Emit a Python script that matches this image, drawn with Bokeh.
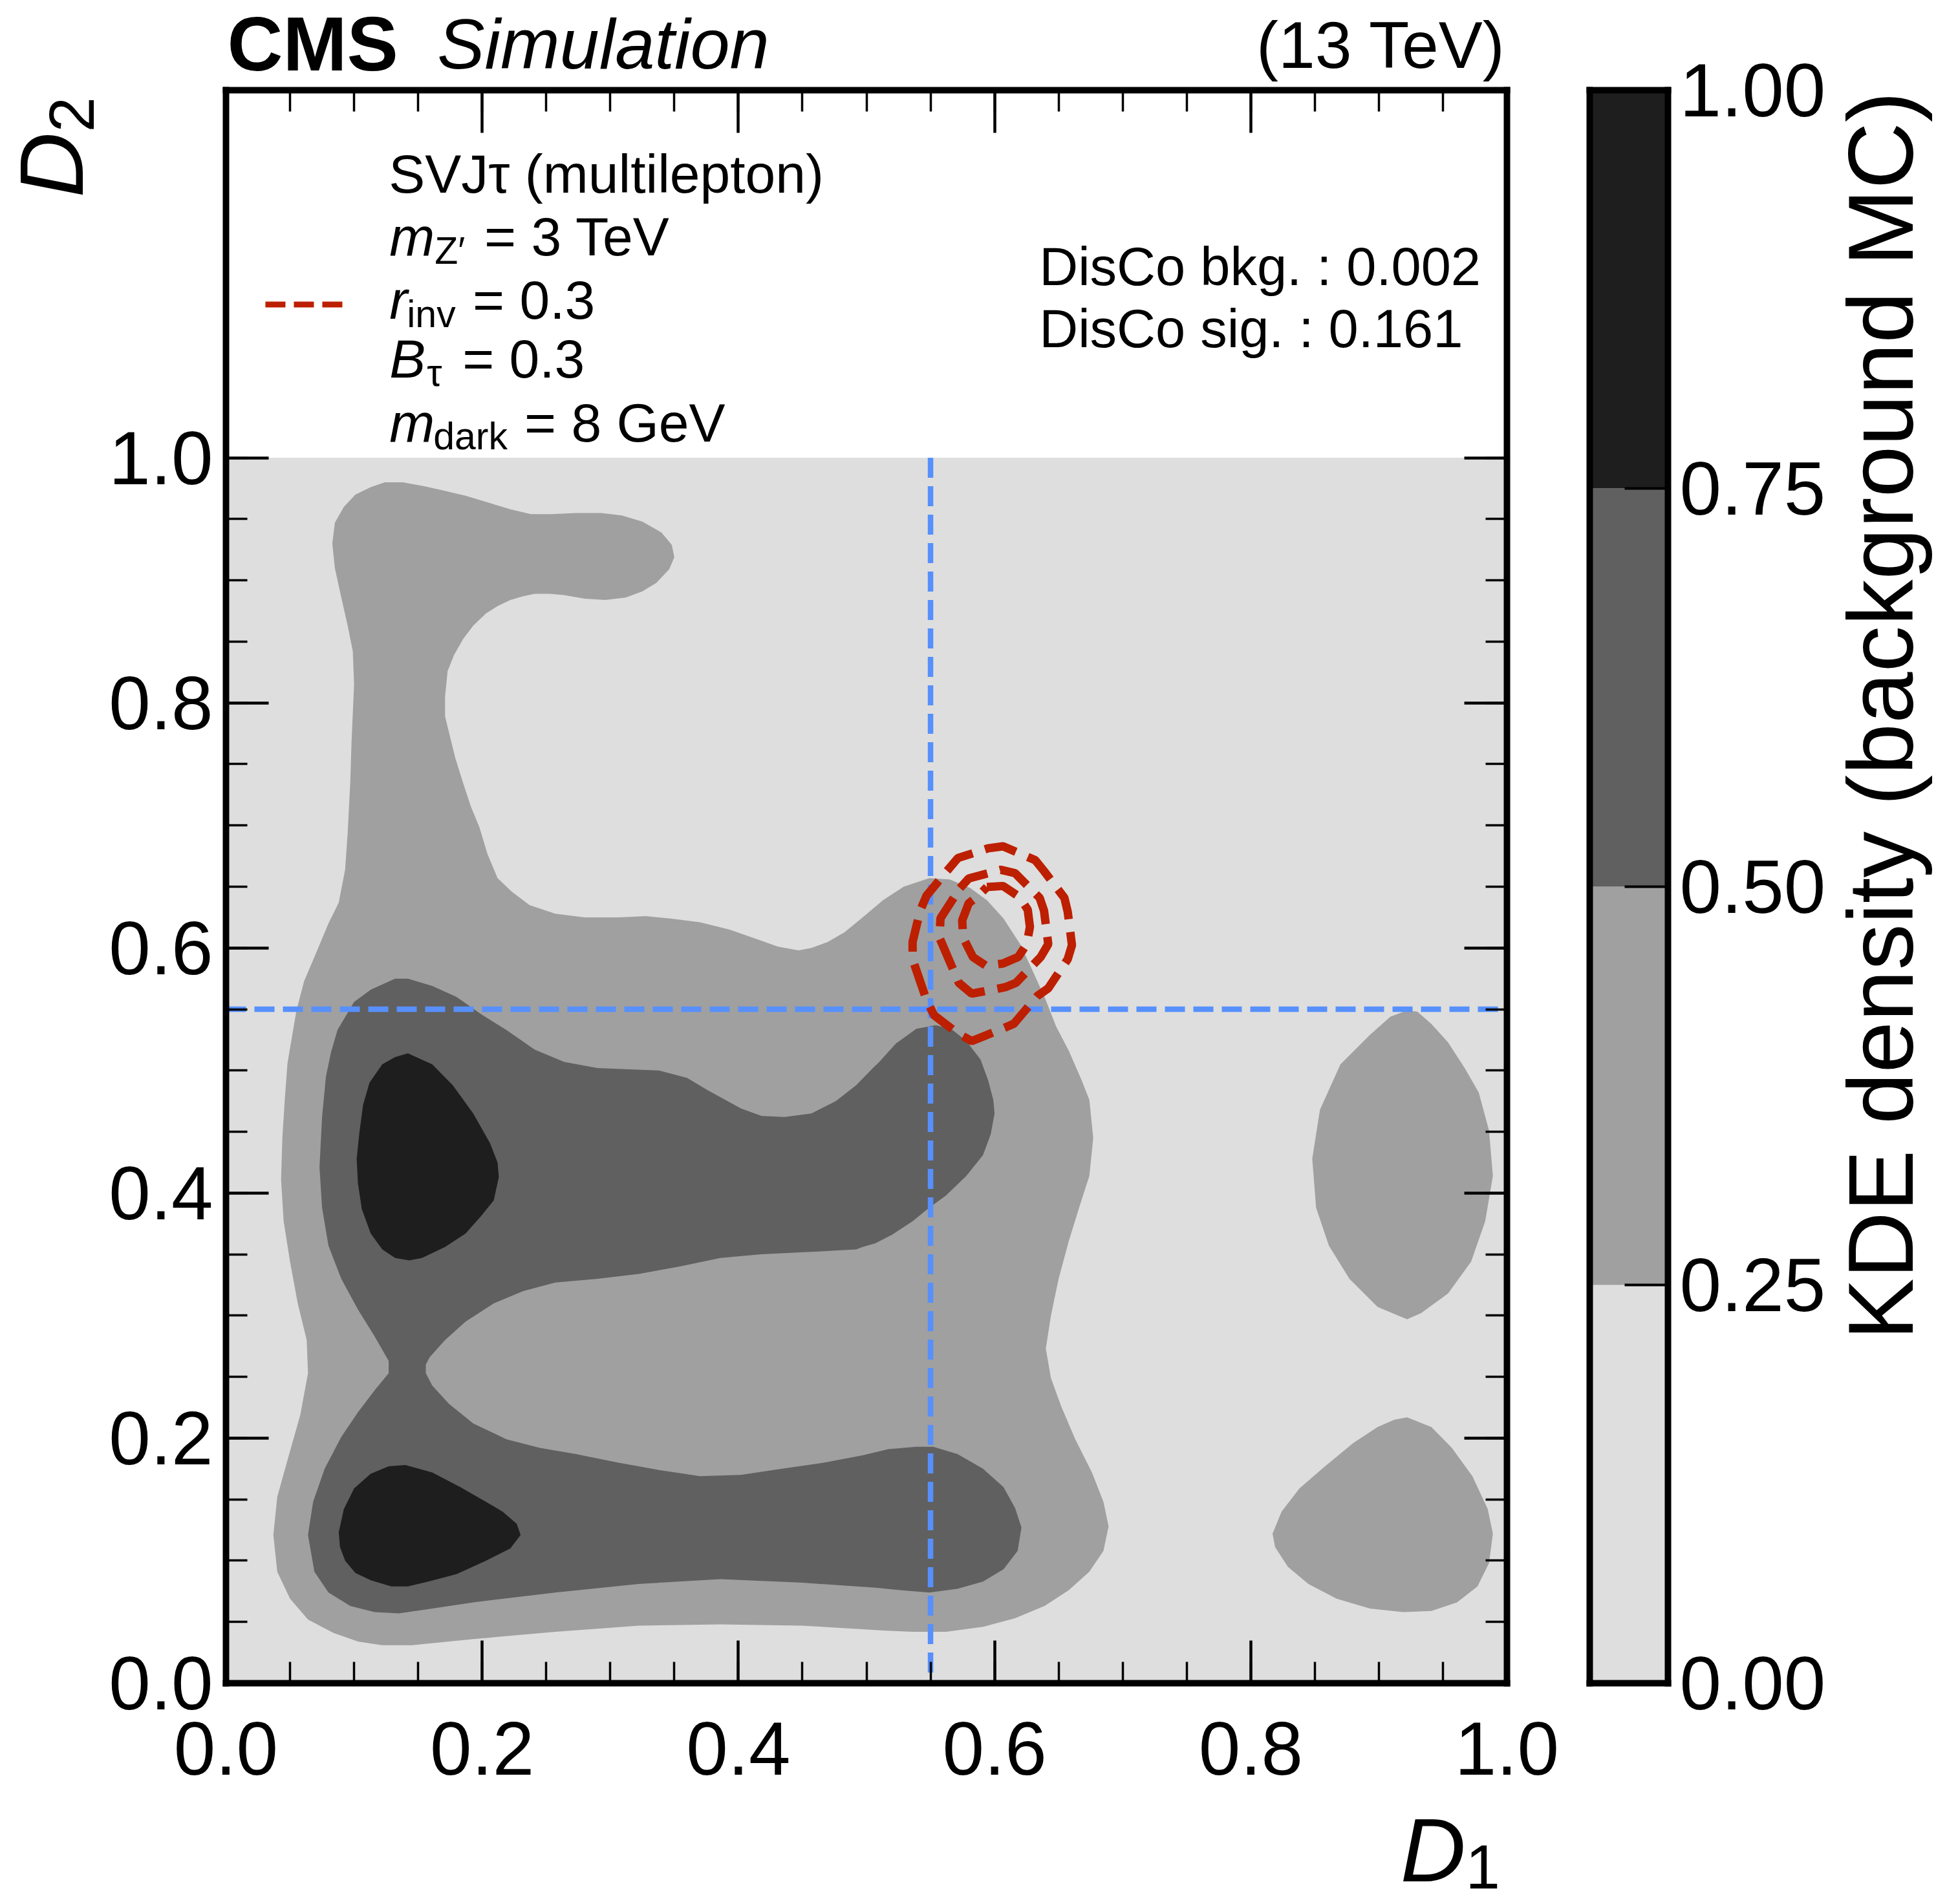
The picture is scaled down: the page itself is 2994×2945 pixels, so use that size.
import math
from bokeh.plotting import figure
from bokeh.models import Label, FixedTicker, LinearAxis, Range1d, PrintfTickFormatter
from bokeh.layouts import row, column
from bokeh.embed import file_html
from bokeh.resources import INLINE

# ------------------------------------------------------------------ data
x_major_ticks = [0.0, 0.2, 0.4, 0.6, 0.8, 1.0]
y_major_ticks = [0.0, 0.2, 0.4, 0.6, 0.8, 1.0]
minor_ticks = [0.0, 0.05, 0.1, 0.15, 0.2, 0.25, 0.3, 0.35, 0.4, 0.45, 0.5,
               0.55, 0.6, 0.65, 0.7, 0.75, 0.8, 0.85, 0.9, 0.95, 1.0]
cbar_ticks = [0.0, 0.25, 0.5, 0.75, 1.0]

kde_levels = [0.0, 0.25, 0.5, 0.75, 1.0]
kde_colors = ["#dedede", "#a0a0a0", "#606060", "#1e1e1e"]
kde_domain_x = [0.0, 1.0]
kde_domain_y = [0.0, 1.0]

cut_d1 = 0.55
cut_d2 = 0.55

# density >= 0.25 : main region
lvl1_main_x = [0.083, 0.085, 0.092, 0.101, 0.113, 0.124, 0.138, 0.154, 0.171, 0.187, 0.203, 0.222, 0.238,
               0.254, 0.273, 0.293, 0.309, 0.325, 0.340, 0.348, 0.350, 0.346, 0.336, 0.325, 0.312, 0.296,
               0.280, 0.264, 0.253, 0.241, 0.232, 0.222, 0.212, 0.203, 0.193, 0.185, 0.178, 0.173, 0.171,
               0.171, 0.175, 0.179, 0.185, 0.191, 0.198, 0.204, 0.212, 0.223, 0.237, 0.257, 0.280, 0.306,
               0.328, 0.347, 0.370, 0.393, 0.415, 0.431, 0.447, 0.457, 0.470, 0.483, 0.497, 0.513, 0.529,
               0.549, 0.565, 0.581, 0.594, 0.607, 0.620, 0.629, 0.639, 0.648, 0.658, 0.668, 0.674, 0.677,
               0.674, 0.666, 0.658, 0.650, 0.644, 0.640, 0.644, 0.652, 0.663, 0.676, 0.685, 0.689, 0.685,
               0.674, 0.658, 0.639, 0.616, 0.591, 0.562, 0.536, 0.513, 0.497, 0.450, 0.386, 0.322, 0.257,
               0.193, 0.145, 0.122, 0.103, 0.084, 0.064, 0.050, 0.040, 0.037, 0.040, 0.048, 0.058, 0.064,
               0.063, 0.056, 0.050, 0.045, 0.043, 0.044, 0.046, 0.048, 0.055, 0.061, 0.072, 0.080, 0.088,
               0.093, 0.095, 0.097, 0.098, 0.100, 0.099, 0.095, 0.090, 0.085]
lvl1_main_y = [0.930, 0.947, 0.960, 0.970, 0.976, 0.980, 0.980, 0.977, 0.973, 0.969, 0.964, 0.958, 0.954,
               0.954, 0.955, 0.955, 0.953, 0.948, 0.939, 0.929, 0.919, 0.909, 0.898, 0.891, 0.886, 0.884,
               0.885, 0.888, 0.889, 0.889, 0.887, 0.884, 0.879, 0.873, 0.863, 0.852, 0.839, 0.826, 0.805,
               0.789, 0.772, 0.755, 0.735, 0.716, 0.698, 0.677, 0.657, 0.646, 0.635, 0.628, 0.625, 0.625,
               0.626, 0.624, 0.621, 0.615, 0.607, 0.601, 0.598, 0.600, 0.605, 0.613, 0.625, 0.639, 0.650,
               0.657, 0.656, 0.649, 0.639, 0.624, 0.603, 0.583, 0.560, 0.536, 0.516, 0.492, 0.476, 0.445,
               0.414, 0.388, 0.361, 0.330, 0.300, 0.273, 0.249, 0.226, 0.199, 0.172, 0.148, 0.128, 0.108,
               0.091, 0.076, 0.063, 0.053, 0.046, 0.042, 0.042, 0.043, 0.044, 0.047, 0.048, 0.047, 0.042,
               0.036, 0.031, 0.031, 0.034, 0.041, 0.052, 0.069, 0.091, 0.121, 0.152, 0.182, 0.219, 0.253,
               0.280, 0.310, 0.344, 0.377, 0.411, 0.445, 0.478, 0.506, 0.549, 0.573, 0.600, 0.620, 0.637,
               0.664, 0.694, 0.735, 0.768, 0.815, 0.842, 0.863, 0.886, 0.910]

# density >= 0.25 : upper-right island
lvl1_ur_x = [0.922, 0.930, 0.941, 0.954, 0.967, 0.978, 0.986, 0.989, 0.983, 0.972, 0.954, 0.933, 0.922,
             0.899, 0.877, 0.861, 0.851, 0.848, 0.854, 0.870, 0.893, 0.909]
lvl1_ur_y = [0.549, 0.548, 0.538, 0.523, 0.502, 0.482, 0.451, 0.414, 0.377, 0.344, 0.318, 0.302, 0.297,
             0.307, 0.330, 0.357, 0.388, 0.428, 0.468, 0.505, 0.529, 0.544]

# density >= 0.25 : lower-right island
lvl1_lr_x = [0.922, 0.941, 0.957, 0.973, 0.985, 0.989, 0.986, 0.977, 0.961, 0.941, 0.919, 0.893, 0.867,
             0.845, 0.829, 0.819, 0.817, 0.824, 0.838, 0.858, 0.880, 0.899, 0.912]
lvl1_lr_y = [0.217, 0.209, 0.192, 0.169, 0.142, 0.122, 0.098, 0.079, 0.066, 0.059, 0.058, 0.061, 0.069,
             0.081, 0.095, 0.111, 0.122, 0.140, 0.159, 0.177, 0.196, 0.209, 0.215]

# density >= 0.50
lvl2_x = [0.087, 0.100, 0.113, 0.132, 0.142, 0.161, 0.180, 0.199, 0.219, 0.241, 0.264, 0.290, 0.315,
          0.338, 0.360, 0.376, 0.402, 0.418, 0.436, 0.457, 0.476, 0.492, 0.505, 0.510, 0.523, 0.539,
          0.554, 0.566, 0.578, 0.589, 0.595, 0.599, 0.600, 0.597, 0.591, 0.578, 0.562, 0.549, 0.536,
          0.520, 0.507, 0.497, 0.492, 0.457, 0.418, 0.386, 0.354, 0.322, 0.290, 0.257, 0.232, 0.209,
          0.187, 0.171, 0.159, 0.156, 0.156, 0.161, 0.174, 0.193, 0.219, 0.245, 0.273, 0.306, 0.338,
          0.370, 0.402, 0.434, 0.467, 0.497, 0.517, 0.539, 0.552, 0.571, 0.591, 0.607, 0.616, 0.621,
          0.618, 0.607, 0.591, 0.571, 0.549, 0.526, 0.507, 0.450, 0.386, 0.322, 0.257, 0.193, 0.161,
          0.135, 0.116, 0.097, 0.080, 0.069, 0.064, 0.068, 0.077, 0.090, 0.103, 0.116, 0.127, 0.127,
          0.116, 0.103, 0.090, 0.080, 0.075, 0.073, 0.075, 0.078, 0.082]
lvl2_y = [0.533, 0.556, 0.566, 0.575, 0.575, 0.569, 0.560, 0.546, 0.533, 0.517, 0.507, 0.502, 0.501,
          0.500, 0.494, 0.484, 0.469, 0.463, 0.462, 0.465, 0.475, 0.488, 0.502, 0.507, 0.522, 0.534,
          0.537, 0.534, 0.524, 0.509, 0.492, 0.476, 0.465, 0.448, 0.431, 0.414, 0.398, 0.388, 0.377,
          0.366, 0.359, 0.356, 0.354, 0.352, 0.350, 0.347, 0.340, 0.334, 0.330, 0.327, 0.320, 0.310,
          0.295, 0.280, 0.266, 0.260, 0.253, 0.243, 0.228, 0.212, 0.199, 0.192, 0.187, 0.180, 0.174,
          0.169, 0.170, 0.175, 0.180, 0.186, 0.191, 0.193, 0.193, 0.187, 0.175, 0.160, 0.143, 0.127,
          0.108, 0.093, 0.083, 0.077, 0.074, 0.076, 0.078, 0.082, 0.085, 0.081, 0.074, 0.066, 0.061,
          0.057, 0.058, 0.063, 0.074, 0.091, 0.121, 0.148, 0.175, 0.201, 0.221, 0.239, 0.253, 0.263,
          0.283, 0.305, 0.330, 0.357, 0.388, 0.421, 0.462, 0.495, 0.515]

# density >= 0.75 : two cores
lvl3_up_x = [0.142, 0.161, 0.177, 0.193, 0.206, 0.212, 0.213, 0.209, 0.199, 0.187, 0.171, 0.153, 0.143,
             0.132, 0.122, 0.113, 0.106, 0.103, 0.102, 0.104, 0.107, 0.112, 0.122, 0.132]
lvl3_up_y = [0.514, 0.505, 0.488, 0.465, 0.441, 0.425, 0.413, 0.394, 0.381, 0.367, 0.356, 0.347, 0.345,
             0.347, 0.354, 0.367, 0.387, 0.408, 0.428, 0.448, 0.472, 0.490, 0.505, 0.511]
lvl3_lo_x = [0.140, 0.161, 0.183, 0.203, 0.216, 0.227, 0.230, 0.222, 0.203, 0.180, 0.158, 0.142, 0.129,
             0.113, 0.101, 0.093, 0.089, 0.088, 0.092, 0.100, 0.113, 0.127]
lvl3_lo_y = [0.178, 0.172, 0.160, 0.148, 0.140, 0.130, 0.121, 0.110, 0.100, 0.089, 0.083, 0.079, 0.079,
             0.084, 0.090, 0.100, 0.111, 0.123, 0.142, 0.159, 0.171, 0.177]

# signal KDE contours (dashed red)
sig_outer_x = [0.5629, 0.5714, 0.5949, 0.6066, 0.6318, 0.6386, 0.6545, 0.6571, 0.6604, 0.6571, 0.6419,
               0.6335, 0.6150, 0.6049, 0.5822, 0.5714, 0.5528, 0.5469, 0.5360, 0.5360, 0.5419, 0.5469]
sig_outer_y = [0.6629, 0.6734, 0.6813, 0.6830, 0.6716, 0.6628, 0.6409, 0.6295, 0.6023, 0.5909, 0.5671,
               0.5609, 0.5381, 0.5336, 0.5240, 0.5302, 0.5451, 0.5574, 0.5908, 0.6049, 0.6304, 0.6427]
sig_mid_x = [0.5730, 0.5798, 0.6049, 0.6159, 0.6352, 0.6386, 0.6419, 0.6360, 0.6167, 0.6083, 0.5822,
             0.5721, 0.5570, 0.5578]
sig_mid_y = [0.6488, 0.6567, 0.6638, 0.6611, 0.6409, 0.6304, 0.6031, 0.5926, 0.5715, 0.5680, 0.5627,
             0.5715, 0.6084, 0.6243]
sig_inner_x = [0.5940, 0.6066, 0.6192, 0.6259, 0.6276, 0.6251, 0.6184, 0.6066, 0.5932, 0.5831, 0.5755,
               0.5747, 0.5798, 0.5865]
sig_inner_y = [0.6497, 0.6506, 0.6418, 0.6312, 0.6172, 0.6031, 0.5926, 0.5873, 0.5856, 0.5926, 0.6084,
               0.6225, 0.6365, 0.6418]

legend_lines = ["SVJτ (multilepton)", "m", "Z′", "= 3 TeV", "r", "inv", "= 0.3",
                "B", "τ", "= 0.3", "m", "dark", "= 8 GeV"]
disco_lines = ["DisCo bkg. : 0.002", "DisCo sig. : 0.161"]

# ------------------------------------------------------------------ layout (page pixels, origin top-left)
FONT = "Liberation Sans"
RED = "#bd1f01"
BLUE = "#5790fc"
TOTAL_W, TOTAL_H = 2992, 2942
LEFT_W = 165                       # strip with the D2 title
MID_X0, MID_X1 = 165, 2450         # column: header / main plot / D1 strip
CB_X0, CB_X1 = 2450, 2826          # colour bar
KDE_X0 = 2826                      # strip with the colour-bar title
HEAD_H = 134
MAIN_Y1 = 2780
FX0, FX1, FY0, FY1 = 347, 2330, 139, 2603      # main frame (page px)
CX0, CX1 = 2458, 2579                          # colour-bar frame (page px)
Y_TOP = 1.3
K_MID = 0.3465   # baseline -> middle of the em box, in em


def dx(px):
    return (px - FX0) / (FX1 - FX0)


def dy(py):
    return Y_TOP * (FY1 - py) / (FY1 - FY0)


def ident(v):
    return v


def put(fig, x, y, text, size, style="normal", align="left", rotated=False, fx=ident, fy=ident):
    """x, y : page position of the text origin on its baseline."""
    if rotated:
        ax, ay, ang = x - K_MID * size, y, math.pi / 2
    else:
        ax, ay, ang = x, y - K_MID * size, 0.0
    fig.add_layout(Label(x=fx(ax), y=fy(ay), text=text, text_font=FONT, text_font_size=f"{size}px",
                         text_font_style=style, text_align=align, text_baseline="middle",
                         angle=ang, text_color="black"))


def strip(w, h, xr, yr):
    """A blank canvas; its (aligned) frame uses page pixels as data coordinates."""
    f = figure(width=w, height=h, x_range=Range1d(*xr), y_range=Range1d(*yr),
               output_backend="svg", toolbar_location=None, x_axis_location=None, y_axis_location=None,
               min_border=0, min_border_left=0, min_border_right=0, min_border_top=0,
               min_border_bottom=0)
    f.grid.visible = False
    f.outline_line_color = None
    f.border_fill_color = "white"
    f.background_fill_color = "white"
    return f


def frame_axis(ax, ticks=None, minor=None, show_labels=False, fmt="%.1f"):
    ax.axis_line_color = "black"
    ax.axis_line_width = 10
    ax.axis_line_cap = "square"
    if ticks is None:
        ax.ticker = FixedTicker(ticks=[], minor_ticks=[])
        ax.major_tick_line_color = None
        ax.minor_tick_line_color = None
    else:
        ax.ticker = FixedTicker(ticks=ticks, minor_ticks=minor)
        ax.major_tick_line_color = "black"
        ax.minor_tick_line_color = "black"
    ax.major_tick_in = 66
    ax.major_tick_out = 0
    ax.minor_tick_in = 33
    ax.minor_tick_out = 0
    ax.major_tick_line_width = 4.5
    ax.minor_tick_line_width = 3.5
    ax.formatter = PrintfTickFormatter(format=fmt)
    ax.major_label_text_font = FONT
    if show_labels:
        ax.major_label_text_font_size = "116px"
        ax.major_label_text_color = "black"
    else:
        ax.major_label_text_font_size = "1px"
        ax.major_label_text_color = None
        ax.major_label_standoff = 0
        ax.axis_label_standoff = 0


# ------------------------------------------------------------------ header strip (frame aligned with main frame in x)
head = strip(MID_X1 - MID_X0, HEAD_H, (FX0, FX1), (HEAD_H, 0))
put(head, 349, 108.2, "CMS", 119, "bold")
put(head, 674, 105, "Simulation", 110, "italic")
put(head, 2328, 105, "(13 TeV)", 102, align="right")

# ------------------------------------------------------------------ main figure
p = figure(width=MID_X1 - MID_X0, height=MAIN_Y1 - HEAD_H, x_range=Range1d(0, 1), y_range=Range1d(0, Y_TOP),
           output_backend="svg", toolbar_location=None,
           min_border_left=FX0 - MID_X0, min_border_right=MID_X1 - FX1,
           min_border_top=FY0 - HEAD_H, min_border_bottom=MAIN_Y1 - FY1)
p.grid.visible = False
p.outline_line_color = None
p.background_fill_color = "white"
p.border_fill_color = "white"

frame_axis(p.xaxis[0], x_major_ticks, minor_ticks, True)
p.xaxis[0].major_label_standoff = 60
frame_axis(p.yaxis[0], y_major_ticks, minor_ticks, True)
p.yaxis[0].major_label_standoff = 20
top_axis = LinearAxis()
frame_axis(top_axis, x_major_ticks, minor_ticks, False)
p.add_layout(top_axis, "above")
right_axis = LinearAxis()
frame_axis(right_axis, y_major_ticks, minor_ticks, False)
p.add_layout(right_axis, "right")

# filled background-KDE contours
p.quad(left=[kde_domain_x[0]], right=[kde_domain_x[1]], bottom=[kde_domain_y[0]], top=[kde_domain_y[1]],
       fill_color=kde_colors[0], line_color=None)
p.patches(xs=[lvl1_main_x, lvl1_ur_x, lvl1_lr_x], ys=[lvl1_main_y, lvl1_ur_y, lvl1_lr_y],
          fill_color=kde_colors[1], line_color=None)
p.patch(lvl2_x, lvl2_y, fill_color=kde_colors[2], line_color=None)
p.patches(xs=[lvl3_up_x, lvl3_lo_x], ys=[lvl3_up_y, lvl3_lo_y], fill_color=kde_colors[3], line_color=None)

# decorrelation cut lines
p.line([cut_d1, cut_d1], [kde_domain_y[1], kde_domain_y[0]], line_color=BLUE, line_width=8.5,
       line_dash="31 13")
p.line([kde_domain_x[0], kde_domain_x[1]], [cut_d2, cut_d2], line_color=BLUE, line_width=8.5,
       line_dash="31 13")

# signal contours
for sx, sy in [(sig_outer_x, sig_outer_y), (sig_mid_x, sig_mid_y), (sig_inner_x, sig_inner_y)]:
    p.line(sx + sx[:1], sy + sy[:1], line_color=RED, line_width=13, line_dash="50 20")

# legend handle
p.line([dx(408), dx(528)], [dy(470.5), dy(470.5)], line_color=RED, line_width=9, line_dash="31 13")

# legend text
M = dict(fx=dx, fy=dy)
put(p, 599, 298, legend_lines[0], 84, **M)
put(p, 600, 395, legend_lines[1], 84, "italic", **M)
put(p, 670, 408, legend_lines[2], 59, **M)
put(p, 747, 395, legend_lines[3], 84, **M)
put(p, 600, 493, legend_lines[4], 84, "italic", **M)
put(p, 627, 506, legend_lines[5], 59, **M)
put(p, 729, 493, legend_lines[6], 84, **M)
put(p, 600, 584, legend_lines[7], 84, "italic", **M)
put(p, 658, 597, legend_lines[8], 59, **M)
put(p, 713, 584, legend_lines[9], 84, **M)
put(p, 600, 683, legend_lines[10], 84, "italic", **M)
put(p, 668, 695, legend_lines[11], 59, **M)
put(p, 809, 683, legend_lines[12], 84, **M)

# DisCo values
put(p, 1606, 441, disco_lines[0], 83, **M)
put(p, 1606, 537, disco_lines[1], 83, **M)

# ------------------------------------------------------------------ title strips
# row children get their frames aligned with the plot frames (page y 139..2603)
left = strip(LEFT_W, TOTAL_H, (0, LEFT_W), (FY1, FY0))
put(left, 128, 305, "D", 140, "italic", rotated=True)
put(left, 144, 204, "2", 98, rotated=True)

bottom = strip(MID_X1 - MID_X0, TOTAL_H - MAIN_Y1, (FX0, FX1), (TOTAL_H, MAIN_Y1))
put(bottom, 2165, 2910, "D", 140, "italic")
put(bottom, 2266, 2920, "1", 96)

kde_strip = strip(TOTAL_W - KDE_X0, TOTAL_H, (KDE_X0, TOTAL_W), (FY1, FY0))
put(kde_strip, 2958, 141, "KDE density (background MC)", 143, align="right", rotated=True)

# ------------------------------------------------------------------ colour bar
cb = figure(width=CB_X1 - CB_X0, height=TOTAL_H, x_range=Range1d(0, 1), y_range=Range1d(0, 1),
            output_backend="svg", toolbar_location=None,
            x_axis_location=None, y_axis_location="right",
            min_border_left=CX0 - CB_X0, min_border_right=CB_X1 - CX1,
            min_border_top=FY0, min_border_bottom=TOTAL_H - FY1)
cb.grid.visible = False
cb.outline_line_color = None
cb.border_fill_color = "white"
cb.quad(left=0, right=1, bottom=kde_levels[:-1], top=kde_levels[1:], fill_color=kde_colors,
        line_color=None)
cax = cb.yaxis[0]
frame_axis(cax, cbar_ticks, [], True, fmt="%.2f")
cax.major_tick_in = 67
cax.major_tick_line_width = 4
cax.major_label_standoff = 18
for place in ["left", "above", "below"]:
    ax = LinearAxis()
    frame_axis(ax)
    cb.add_layout(ax, place)

layout = row(left, column(head, p, bottom), cb, kde_strip)
open("out.html", "w").write(file_html(layout, INLINE, title="CMS SVJ tau KDE"))
